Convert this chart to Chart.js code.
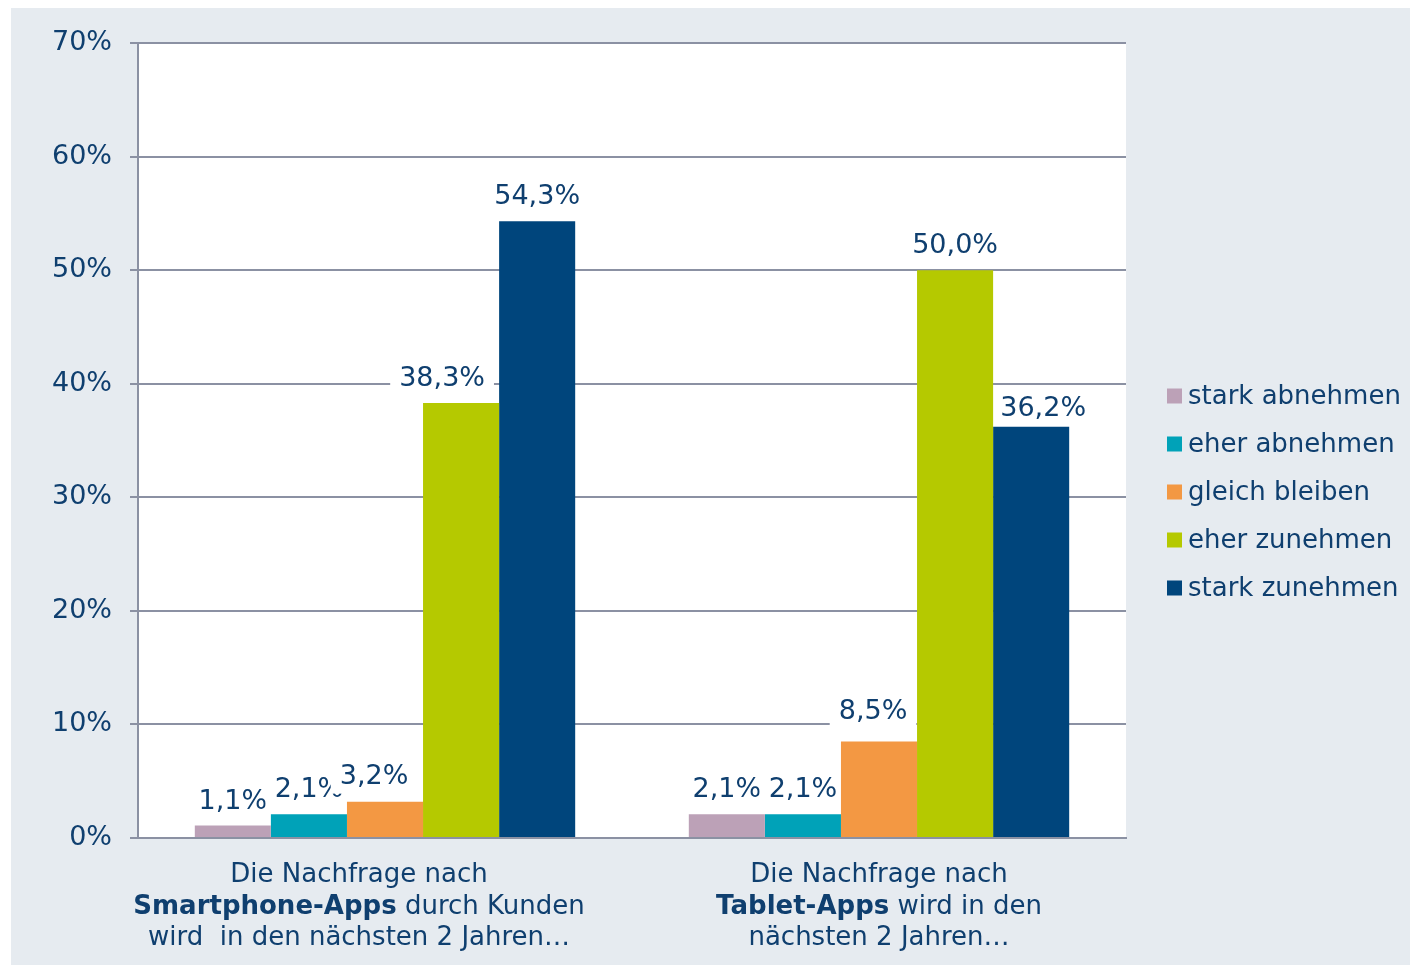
<!DOCTYPE html>
<html>
<head>
<meta charset="utf-8">
<script src="https://cdn.jsdelivr.net/npm/chart.js@4.4.1/dist/chart.umd.min.js"></script>
<style>
html,body{margin:0;padding:0;background:#ffffff;}
#wrap{position:absolute;left:0;top:0;width:1410px;height:967px;}
</style>
</head>
<body>
<div id="wrap"><canvas id="c" width="1410" height="967"></canvas></div>
<script>
// ---- data ----
const categories = ['Smartphone-Apps', 'Tablet-Apps'];
const seriesNames = ['stark abnehmen', 'eher abnehmen', 'gleich bleiben', 'eher zunehmen', 'stark zunehmen'];
const starkAbnehmen = [1.1, 2.1];
const eherAbnehmen = [2.1, 2.1];
const gleichBleiben = [3.2, 8.5];
const eherZunehmen = [38.3, 50.0];
const starkZunehmen = [54.3, 36.2];
const yTickLabels = ['0%', '10%', '20%', '30%', '40%', '50%', '60%', '70%'];
const categoryLabelLines = [
  [[['Die Nachfrage nach', false]], [['Smartphone-Apps', true], [' durch Kunden', false]], [['wird  in den nächsten 2 Jahren…', false]]],
  [[['Die Nachfrage nach', false]], [['Tablet-Apps', true], [' wird in den', false]], [['nächsten 2 Jahren…', false]]]
];

// ---- style ----
const colors = ['#bca1b7', '#00a2b8', '#f39843', '#b5c900', '#00457c'];
const textColor = '#0f3f6f';
const gridColor = '#8b91a3';
const FONT = '"DejaVu Sans", Verdana, sans-serif';
const labelNudges = { '2-0': [-11, -1], '3-0': [-19, 0], '2-1': [-6, -5], '4-1': [12, 6] };
const categoryLabelNudge = [-26, 0];

const valueSets = [starkAbnehmen, eherAbnehmen, gleichBleiben, eherZunehmen, starkZunehmen];

const bgPlugin = {
  id: 'bg',
  beforeDraw(chart) {
    const ctx = chart.ctx, a = chart.chartArea;
    ctx.save();
    ctx.fillStyle = '#e6ebf0';
    ctx.fillRect(11, 8, 1399, 957);
    ctx.fillStyle = '#ffffff';
    ctx.fillRect(a.left, a.top, a.right - a.left, a.bottom - a.top);
    ctx.restore();
  }
};

const fmt = v => v.toFixed(1).replace('.', ',') + '%';

const labelPlugin = {
  id: 'vlabels',
  beforeDatasetsDraw(chart) {
    const ctx = chart.ctx;
    ctx.save();
    ctx.font = '27px ' + FONT;
    chart.data.datasets.forEach((ds, di) => {
      const meta = chart.getDatasetMeta(di);
      meta.data.forEach((bar, i) => {
        const txt = fmt(ds.data[i]);
        const n = labelNudges[di + '-' + i] || [0, 0];
        const cx = bar.x + n[0];
        const cy = bar.y - 27 + n[1];
        const w = ctx.measureText(txt).width;
        ctx.fillStyle = '#ffffff';
        ctx.fillRect(cx - w / 2 - 9, cy - 20, w + 18, 40);
        ctx.fillStyle = textColor;
        ctx.textAlign = 'center';
        ctx.textBaseline = 'alphabetic';
        ctx.fillText(txt, cx, cy + 10);
      });
    });
    ctx.restore();
  }
};

const xLabelPlugin = {
  id: 'xlabels',
  afterDraw(chart) {
    const ctx = chart.ctx, xs = chart.scales.x;
    ctx.save();
    ctx.fillStyle = textColor;
    ctx.textBaseline = 'alphabetic';
    ctx.textAlign = 'left';
    const baselines = [882, 914, 945];
    categoryLabelLines.forEach((lines, ci) => {
      let cx = xs.getPixelForValue(ci);
      if (ci === 0) cx += categoryLabelNudge[0];
      lines.forEach((segs, li) => {
        let total = 0;
        segs.forEach(s => { ctx.font = (s[1] ? 'bold ' : '') + '26px ' + FONT; total += ctx.measureText(s[0]).width; });
        let x = cx - total / 2;
        segs.forEach(s => {
          ctx.font = (s[1] ? 'bold ' : '') + '26px ' + FONT;
          ctx.fillText(s[0], x, baselines[li]);
          x += ctx.measureText(s[0]).width;
        });
      });
    });
    ctx.restore();
  }
};

const legendPlugin = {
  id: 'customLegend',
  afterDraw(chart) {
    const ctx = chart.ctx;
    ctx.save();
    ctx.font = '26px ' + FONT;
    ctx.textBaseline = 'middle';
    ctx.textAlign = 'left';
    chart.data.datasets.forEach((ds, i) => {
      const cy = 396 + i * 48;
      ctx.fillStyle = ds.backgroundColor;
      ctx.fillRect(1167, cy - 7.5, 15, 15);
      ctx.fillStyle = textColor;
      ctx.fillText(ds.label, 1188, cy + 1);
    });
    ctx.restore();
  }
};

new Chart(document.getElementById('c'), {
  type: 'bar',
  data: {
    labels: categories,
    datasets: seriesNames.map((name, i) => ({
      label: name,
      data: valueSets[i],
      backgroundColor: colors[i],
      borderWidth: 0,
      categoryPercentage: 0.77,
      barPercentage: 1.0
    }))
  },
  options: {
    responsive: false,
    animation: false,
    devicePixelRatio: 1,
    layout: { padding: { top: 43, right: 284, left: 0, bottom: 0 } },
    plugins: { legend: { display: false }, tooltip: { enabled: false } },
    scales: {
      x: {
        grid: { display: false },
        border: { display: true, color: gridColor, width: 2 },
        ticks: { display: false },
        afterFit(s) { s.height = 129; }
      },
      y: {
        min: 0, max: 70,
        ticks: {
          stepSize: 10,
          color: textColor,
          font: { family: FONT, size: 27 },
          padding: 18,
          callback: (v) => yTickLabels[Math.round(v / 10)]
        },
        grid: { color: gridColor, lineWidth: 2, tickLength: 8, drawTicks: true },
        border: { display: true, color: gridColor, width: 2 },
        afterFit(s) { s.width = 138; }
      }
    }
  },
  plugins: [bgPlugin, labelPlugin, xLabelPlugin, legendPlugin]
});
</script>
</body>
</html>
